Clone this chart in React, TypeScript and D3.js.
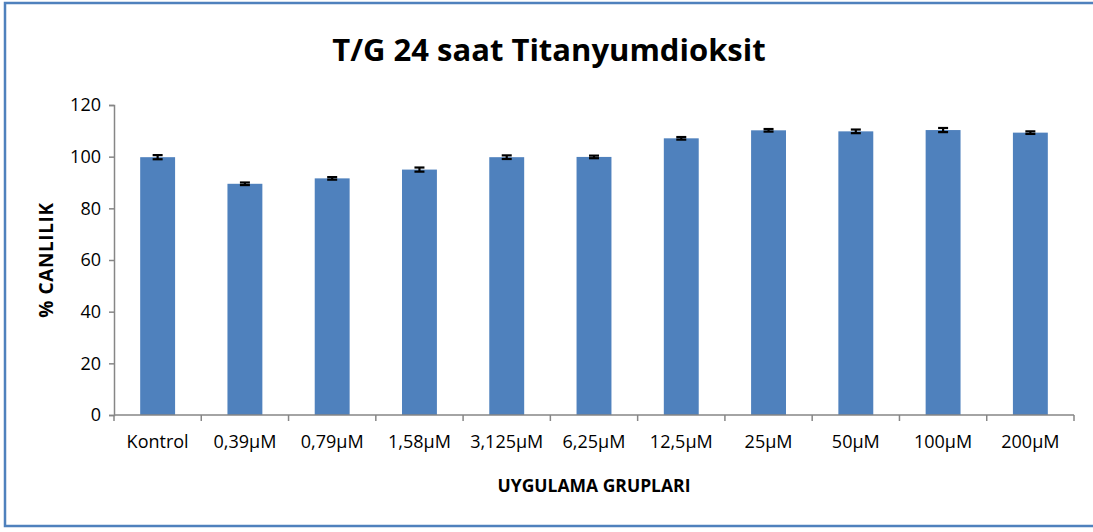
import React, { useEffect, useRef } from "react";
import * as d3 from "d3";

const groups = ["Kontrol", "0,39µM", "0,79µM", "1,58µM", "3,125µM", "6,25µM", "12,5µM", "25µM", "50µM", "100µM", "200µM"];
const viability = [99.8, 89.5, 91.6, 95.0, 99.8, 99.9, 107.1, 110.2, 109.8, 110.3, 109.3];
const errors = [0.8, 0.5, 0.5, 0.8, 0.7, 0.5, 0.5, 0.5, 0.7, 0.8, 0.5];
const yTicks = [0, 20, 40, 60, 80, 100, 120];

export default function App() {
  const svgRef = useRef<SVGSVGElement>(null);

  useEffect(() => {
    const W = 1093, H = 532;
    const margin = { top: 105, right: 19, bottom: 117, left: 114 };
    const font = "'Open Sans', sans-serif";

    const svg = d3.select(svgRef.current)
      .html("")
      .attr("width", W)
      .attr("height", H);

    svg.append("rect").attr("width", W).attr("height", H).attr("fill", "#fff");

    // frame
    svg.append("rect")
      .attr("x", 5).attr("y", 3)
      .attr("width", 1100).attr("height", 523)
      .attr("fill", "none")
      .attr("stroke", "#4f81bd")
      .attr("stroke-width", 2.5);

    const x = d3.scaleBand()
      .domain(groups)
      .range([margin.left, W - margin.right])
      .paddingInner(0.6)
      .paddingOuter(0.3);

    const y = d3.scaleLinear()
      .domain([0, 120])
      .range([H - margin.bottom, margin.top]);

    // title
    svg.append("text")
      .attr("x", 549)
      .attr("y", 61)
      .attr("text-anchor", "middle")
      .style("font-family", font)
      .style("font-weight", "bold")
      .style("font-size", "31px")
      .text("T/G 24 saat Titanyumdioksit");

    // bars
    svg.append("g")
      .selectAll("rect")
      .data(groups)
      .join("rect")
      .attr("x", d => x(d)!)
      .attr("y", (d, i) => y(viability[i]))
      .attr("width", x.bandwidth())
      .attr("height", (d, i) => y(0) - y(viability[i]))
      .attr("fill", "#4f81bd");

    // error bars
    const eb = svg.append("g").attr("stroke", "#000").attr("stroke-width", 2.2);
    groups.forEach((g, i) => {
      const cx = x(g)! + x.bandwidth() / 2;
      const hi = y(viability[i] + errors[i]);
      const lo = y(viability[i] - errors[i]);
      eb.append("line").attr("x1", cx).attr("x2", cx).attr("y1", hi).attr("y2", lo);
      eb.append("line").attr("x1", cx - 5).attr("x2", cx + 5).attr("y1", hi).attr("y2", hi);
      eb.append("line").attr("x1", cx - 5).attr("x2", cx + 5).attr("y1", lo).attr("y2", lo);
    });

    // y axis
    const yAxis = svg.append("g")
      .attr("transform", `translate(${margin.left},0)`)
      .call(d3.axisLeft(y).tickValues(yTicks).tickSize(5).tickPadding(8));
    yAxis.select(".domain").attr("stroke", "#868686").attr("stroke-width", 1.5);
    yAxis.selectAll(".tick line").attr("stroke", "#868686").attr("stroke-width", 1.5);
    yAxis.selectAll(".tick text")
      .style("font-family", font)
      .style("font-size", "18px")
      .attr("fill", "#000");

    // x axis
    const xAxis = svg.append("g")
      .attr("transform", `translate(0,${y(0)})`)
      .call(d3.axisBottom(x).tickSize(0).tickPadding(20));
    xAxis.select(".domain").attr("stroke", "none");
    xAxis.append("line")
      .attr("x1", margin.left).attr("x2", W - margin.right)
      .attr("stroke", "#868686").attr("stroke-width", 1.5);
    const catW = (W - margin.left - margin.right) / groups.length;
    xAxis.selectAll(".cat-tick")
      .data(d3.range(groups.length + 1))
      .join("line")
      .attr("x1", i => margin.left + i * catW)
      .attr("x2", i => margin.left + i * catW)
      .attr("y1", 0).attr("y2", 6)
      .attr("stroke", "#868686").attr("stroke-width", 1.5);
    xAxis.selectAll(".tick text")
      .style("font-family", font)
      .style("font-size", "18px")
      .attr("fill", "#000");

    // axis labels
    svg.append("text")
      .attr("x", 594)
      .attr("y", 492)
      .attr("text-anchor", "middle")
      .style("font-family", font)
      .style("font-weight", "bold")
      .style("font-size", "17.5px")
      .text("UYGULAMA GRUPLARI");

    svg.append("text")
      .attr("transform", "translate(53,260) rotate(-90)")
      .attr("text-anchor", "middle")
      .style("font-family", font)
      .style("font-weight", "bold")
      .style("font-size", "19px")
      .style("letter-spacing", "0.6px")
      .text("% CANLILIK");
  }, []);

  return <svg ref={svgRef} style={{ position: "absolute", left: 0, top: 0 }}></svg>;
}
